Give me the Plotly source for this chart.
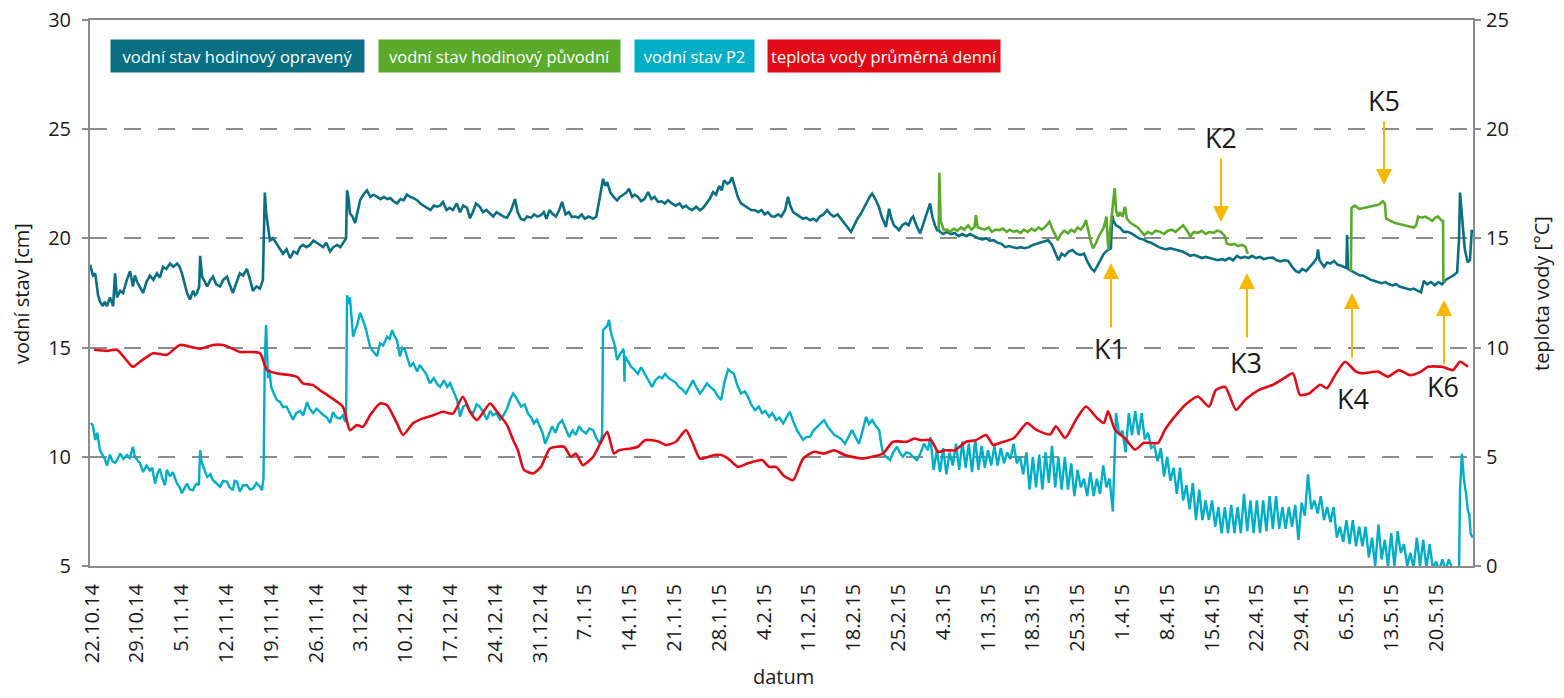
import pandas as pd
import plotly.graph_objects as go

START = "2014-10-22"

# ---- x-axis tick labels (weekly) ----
tick_labels = ["22.10.14", "29.10.14", "5.11.14", "12.11.14", "19.11.14", "26.11.14",
               "3.12.14", "10.12.14", "17.12.14", "24.12.14", "31.12.14", "7.1.15",
               "14.1.15", "21.1.15", "28.1.15", "4.2.15", "11.2.15", "18.2.15",
               "25.2.15", "4.3.15", "11.3.15", "18.3.15", "25.3.15", "1.4.15",
               "8.4.15", "15.4.15", "22.4.15", "29.4.15", "6.5.15", "13.5.15", "20.5.15"]

# ---- vodní stav hodinový opravený [cm] : (days since 22.10.14, value) ----
opr = [(-0.3, 18.8), (0.15, 18.3), (0.5, 18.4), (0.95, 17.4), (1.25, 17.1), (1.7, 16.9), (2.0, 17.1),
       (2.35, 16.9), (2.8, 17.3), (3.3, 16.9), (3.6, 18.4), (3.9, 17.3), (4.4, 17.6), (4.85, 17.5),
       (5.45, 18.1), (5.95, 18.5), (6.4, 17.8), (6.7, 18.3), (7.05, 18.0), (7.6, 17.7), (8.0, 17.5),
       (8.5, 18.0), (9.05, 18.3), (9.6, 18.1), (10.15, 18.4), (10.6, 18.2), (11.1, 18.7), (11.6, 18.6),
       (12.2, 18.85), (12.7, 18.7), (13.3, 18.85), (13.7, 18.7), (14.05, 18.4), (14.5, 17.9),
       (14.85, 17.5), (15.3, 17.2), (15.8, 17.6), (16.1, 17.4), (16.4, 17.5), (16.75, 17.8),
       (16.9, 19.2), (17.2, 18.25), (17.6, 18.0), (18.0, 17.8), (18.5, 18.1), (18.9, 18.25),
       (19.4, 17.9), (20.0, 17.8), (20.5, 18.1), (21.1, 18.25), (21.5, 17.9), (22.0, 17.5),
       (22.6, 18.0), (23.1, 18.4), (23.6, 18.3), (24.2, 18.6), (24.7, 18.1), (25.15, 17.6),
       (25.7, 17.8), (26.25, 17.7), (26.7, 18.1), (26.9, 21.0), (27.0, 22.1), (27.2, 21.2),
       (27.5, 20.5), (27.8, 19.9), (28.3, 20.0), (28.9, 19.7), (29.4, 19.5), (29.85, 19.3),
       (30.4, 19.5), (30.95, 19.1), (31.5, 19.4), (32.05, 19.3), (32.5, 19.6), (32.95, 19.7),
       (33.5, 19.6), (34.05, 19.7), (34.6, 19.9), (35.15, 19.8), (35.6, 19.7), (36.1, 19.6),
       (36.6, 19.8), (37.2, 19.4), (37.7, 19.6), (38.3, 19.7), (38.8, 19.6), (39.2, 19.8),
       (39.7, 20.0), (39.85, 22.2), (40.1, 21.8), (40.3, 21.15), (40.7, 21.0), (41.1, 20.7),
       (41.5, 21.3), (41.9, 21.75), (42.4, 22.0), (42.95, 22.2), (43.5, 21.9), (44.0, 22.0),
       (44.55, 21.9), (45.1, 21.8), (45.6, 21.9), (46.1, 21.8), (46.6, 21.85), (47.1, 21.7),
       (47.65, 21.6), (48.2, 21.8), (48.7, 21.75), (49.2, 22.0), (49.7, 21.9), (50.2, 21.85),
       (50.8, 21.75), (51.3, 21.6), (51.8, 21.5), (52.35, 21.4), (52.9, 21.3), (53.4, 21.5),
       (53.9, 21.45), (54.4, 21.5), (54.85, 21.67), (55.4, 21.3), (55.9, 21.4), (56.4, 21.3),
       (57.0, 21.6), (57.5, 21.2), (58.0, 21.5), (58.6, 21.4), (59.05, 20.93), (59.5, 21.2),
       (60.0, 21.6), (60.6, 21.45), (61.1, 21.2), (61.6, 21.3), (62.2, 21.15), (62.7, 21.0),
       (63.2, 21.2), (63.75, 21.1), (64.3, 21.0), (64.85, 20.95), (65.5, 21.3), (66.1, 21.8),
       (66.5, 21.2), (67.0, 20.9), (67.5, 20.83), (68.0, 21.0), (68.6, 20.95), (69.1, 21.1),
       (69.6, 21.0), (70.1, 21.05), (70.6, 21.2), (71.0, 20.9), (71.5, 21.3), (71.9, 21.14),
       (72.5, 21.0), (73.0, 21.3), (73.45, 21.67), (74.0, 21.1), (74.5, 21.2), (75.0, 20.98),
       (75.5, 21.0), (76.0, 20.95), (76.5, 21.1), (77.0, 20.9), (77.6, 21.0), (78.3, 20.9),
       (78.8, 21.0), (79.3, 21.8), (79.85, 22.73), (80.2, 22.4), (80.5, 22.58), (81.0, 22.1),
       (81.5, 21.9), (82.05, 21.74), (82.5, 21.9), (83.0, 22.0), (83.5, 22.1), (83.9, 22.27),
       (84.4, 21.9), (84.8, 22.0), (85.3, 21.9), (85.8, 21.7), (86.3, 21.8), (86.9, 22.12),
       (87.4, 21.8), (87.9, 21.9), (88.45, 21.67), (89.0, 21.7), (89.5, 21.6), (90.0, 21.75),
       (90.6, 21.6), (91.2, 21.5), (91.8, 21.6), (92.3, 21.4), (92.8, 21.5), (93.3, 21.36),
       (93.8, 21.3), (94.4, 21.45), (95.0, 21.29), (95.5, 21.4), (96.0, 21.6), (96.5, 21.8),
       (97.05, 22.12), (97.5, 22.0), (98.0, 22.4), (98.4, 22.2), (98.75, 22.65), (99.3, 22.5),
       (99.7, 22.6), (100.0, 22.8), (100.4, 22.4), (100.9, 21.9), (101.4, 21.6), (101.9, 21.5),
       (102.5, 21.4), (103.0, 21.3), (103.6, 21.29), (104.1, 21.2), (104.6, 21.3), (105.1, 21.1),
       (105.6, 21.2), (106.2, 21.0), (106.7, 21.0), (107.2, 21.1), (107.7, 21.0), (108.3, 21.3),
       (108.75, 21.9), (109.1, 21.5), (109.55, 21.2), (110.0, 21.1), (110.6, 21.0), (111.1, 20.9),
       (111.6, 20.95), (112.2, 20.83), (112.7, 20.9), (113.2, 20.8), (113.7, 21.0), (114.3, 21.1),
       (114.85, 21.3), (115.4, 21.1), (115.9, 21.0), (116.5, 21.1), (117.05, 20.9), (117.6, 20.7),
       (118.1, 20.5), (118.6, 20.3), (119.1, 20.6), (119.6, 20.9), (120.15, 21.14), (120.6, 21.4),
       (121.1, 21.7), (121.5, 21.9), (121.9, 22.05), (122.4, 21.8), (122.95, 21.44), (123.4, 21.0),
       (124.05, 20.53), (124.3, 20.9), (124.55, 21.36), (124.9, 20.9), (125.3, 20.6), (125.7, 20.5),
       (126.1, 20.38), (126.6, 20.6), (127.1, 20.7), (127.6, 20.6), (128.0, 20.9), (128.3, 21.0),
       (128.8, 20.6), (129.4, 20.23), (129.8, 20.6), (130.3, 21.0), (130.95, 21.6), (131.3, 21.0),
       (131.7, 20.6), (132.05, 20.38), (132.3, 20.4), (132.5, 20.3), (133.0, 20.2), (133.6, 20.3),
       (134.2, 20.2), (134.8, 20.25), (135.4, 20.1), (136.0, 20.2), (136.6, 20.1), (137.2, 20.2),
       (137.9, 20.08), (138.5, 20.0), (139.1, 19.95), (139.7, 20.0), (140.3, 19.9), (140.9, 19.92),
       (141.5, 19.8), (142.1, 19.75), (142.7, 19.6), (143.3, 19.65), (143.9, 19.6), (144.5, 19.55),
       (145.1, 19.6), (145.7, 19.55), (146.4, 19.6), (147.0, 19.7), (147.6, 19.75), (148.2, 19.8),
       (148.8, 19.85), (149.4, 19.92), (150.0, 19.7), (150.6, 19.3), (151.0, 19.0), (151.5, 19.3),
       (152.0, 19.2), (152.6, 19.4), (153.2, 19.47), (153.8, 19.3), (154.4, 19.24), (155.0, 19.3),
       (155.6, 18.9), (156.2, 18.6), (156.6, 18.5), (157.0, 18.7), (157.5, 19.0), (158.1, 19.3),
       (158.7, 19.47), (159.2, 19.54), (159.4, 21.07), (159.6, 20.8), (160.0, 20.6), (160.6, 20.5),
       (161.2, 20.3), (161.8, 20.3), (162.4, 20.23), (163.0, 20.1), (163.6, 20.0), (164.3, 19.95),
       (164.9, 19.85), (165.5, 19.8), (166.1, 19.7), (166.7, 19.6), (167.3, 19.54), (167.9, 19.5),
       (168.5, 19.55), (169.1, 19.5), (169.8, 19.47), (170.4, 19.4), (171.0, 19.3), (171.6, 19.2),
       (172.2, 19.25), (172.8, 19.16), (173.4, 19.1), (174.0, 19.15), (174.7, 19.1), (175.3, 19.05),
       (175.9, 19.0), (176.5, 19.05), (177.1, 19.0), (177.7, 19.1), (178.3, 19.0), (178.9, 19.2),
       (179.5, 19.1), (180.1, 19.16), (180.7, 19.1), (181.25, 19.2), (181.9, 19.1), (182.5, 19.15),
       (183.1, 19.05), (183.7, 19.1), (184.5, 19.12), (185.1, 19.0), (185.7, 18.95), (186.3, 19.0),
       (186.9, 18.97), (187.5, 18.7), (188.1, 18.5), (188.6, 18.44), (189.1, 18.6), (189.7, 18.5),
       (190.3, 18.7), (190.9, 18.9), (191.4, 19.12), (191.55, 19.5), (191.8, 19.0), (192.2, 18.8),
       (192.5, 18.7), (193.0, 18.9), (193.5, 18.85), (194.05, 18.97), (194.6, 18.8), (195.2, 18.75),
       (195.8, 18.67), (196.0, 18.7), (196.1, 20.15), (196.25, 18.6), (196.9, 18.5), (197.5, 18.4),
       (198.1, 18.3), (198.6, 18.3), (199.2, 18.2), (199.8, 18.1), (200.3, 18.06), (200.9, 18.0),
       (201.5, 17.95), (202.1, 18.0), (202.65, 17.9), (203.2, 17.85), (203.8, 17.9), (204.3, 17.8),
       (204.85, 17.76), (205.4, 17.7), (206.0, 17.65), (206.5, 17.7), (207.1, 17.6), (207.65, 17.53),
       (208.1, 18.06), (208.6, 17.9), (209.2, 18.0), (209.8, 17.85), (210.4, 18.0), (210.95, 17.9),
       (211.5, 18.1), (212.1, 18.2), (212.7, 18.3), (213.3, 18.44), (213.6, 20.0), (213.75, 22.1),
       (214.05, 21.0), (214.5, 19.5), (214.95, 18.9), (215.3, 19.0), (215.6, 20.4)]
opr_days = [d for d, v in opr]
opr_vals = [v for d, v in opr]

# ---- vodní stav hodinový původní [cm] (two recorded segments) ----
puv1 = [(132.3, 20.4), (132.4, 23.0), (132.6, 20.8), (132.9, 20.5), (133.1, 20.38), (133.6, 20.4),
        (134.1, 20.3), (134.7, 20.45), (135.2, 20.35), (135.8, 20.5), (136.3, 20.4), (136.9, 20.6),
        (137.4, 20.4), (137.9, 20.53), (138.1, 21.07), (138.4, 20.5), (139.0, 20.45), (139.5, 20.4),
        (140.1, 20.5), (140.6, 20.3), (141.2, 20.4), (141.8, 20.38), (142.3, 20.45), (142.9, 20.3),
        (143.4, 20.4), (144.0, 20.3), (144.5, 20.35), (145.1, 20.25), (145.6, 20.4), (146.2, 20.3),
        (146.8, 20.45), (147.3, 20.35), (147.9, 20.5), (148.4, 20.4), (149.0, 20.55), (149.6, 20.76),
        (150.1, 20.4), (150.6, 20.1), (150.9, 19.92), (151.4, 20.2), (151.9, 20.35), (152.5, 20.23),
        (153.0, 20.4), (153.5, 20.3), (154.0, 20.5), (154.5, 20.4), (155.0, 20.6), (155.3, 20.84),
        (155.7, 20.3), (156.1, 19.8), (156.4, 19.54), (156.9, 19.8), (157.3, 20.1), (157.6, 20.23),
        (158.1, 20.5), (158.5, 21.0), (158.7, 20.2), (158.8, 19.47), (159.0, 20.0), (159.1, 20.4),
        (159.6, 21.8), (159.8, 22.3), (160.0, 21.3), (160.3, 21.0), (160.6, 21.2), (161.0, 21.0),
        (161.4, 21.45), (161.7, 20.9), (162.3, 20.7), (162.8, 20.6), (163.4, 20.5), (164.0, 20.3),
        (164.4, 20.15), (165.0, 20.3), (165.6, 20.2), (166.2, 20.35), (166.9, 20.3), (167.5, 20.2),
        (168.1, 20.35), (168.7, 20.4), (169.3, 20.3), (169.9, 20.45), (170.5, 20.6), (171.0, 20.4),
        (171.6, 20.1), (172.2, 20.3), (172.8, 20.25), (173.4, 20.35), (174.0, 20.2), (174.6, 20.3),
        (175.2, 20.25), (175.8, 20.35), (176.4, 20.3), (177.0, 20.1), (177.3, 19.77), (177.9, 19.7),
        (178.5, 19.75), (179.1, 19.65), (179.7, 19.7), (180.2, 19.62), (180.6, 19.3)]
puv2 = [(196.7, 18.5), (196.8, 21.4), (197.35, 21.5), (198.0, 21.35), (198.9, 21.4), (199.7, 21.45),
        (200.5, 21.5), (201.1, 21.55), (201.7, 21.7), (202.0, 21.6), (202.2, 20.9), (202.9, 20.8),
        (203.6, 20.7), (204.4, 20.65), (205.15, 20.6), (205.9, 20.55), (206.55, 20.5), (206.9, 20.6),
        (207.2, 21.0), (207.8, 20.95), (208.3, 21.0), (208.9, 20.9), (209.4, 20.8), (209.9, 20.95),
        (210.3, 21.0), (210.95, 20.8), (211.1, 20.8), (211.15, 18.0)]

# ---- vodní stav P2 [cm] ----
p2_a = [(-0.15, 11.55), (0.15, 11.4), (0.5, 10.77), (0.8, 11.1), (1.25, 10.3), (1.7, 10.08), (2.0, 9.9),
        (2.35, 9.6), (2.8, 10.1), (3.2, 9.8), (3.6, 9.72), (4.0, 9.9), (4.4, 10.15), (4.9, 9.9),
        (5.45, 10.08), (5.9, 9.95), (6.4, 10.46), (6.7, 10.0), (7.05, 9.85), (7.5, 9.7), (8.0, 9.3),
        (8.5, 9.6), (9.05, 9.37), (9.4, 9.5), (9.85, 8.77), (10.2, 9.2), (10.6, 9.45), (11.0, 9.0),
        (11.4, 8.7), (11.7, 9.4), (12.2, 9.1), (12.65, 9.3), (13.0, 9.0), (13.3, 8.77), (13.7, 8.6),
        (14.05, 8.33), (14.5, 8.6), (14.85, 8.77), (15.3, 8.5), (15.8, 8.47), (16.1, 8.7), (16.4, 8.77),
        (16.7, 8.7), (16.9, 10.3), (17.1, 9.8), (17.35, 9.55), (17.7, 9.3), (18.0, 9.08), (18.5, 9.2),
        (18.9, 8.93), (19.4, 8.8), (20.0, 8.63), (20.5, 8.9), (21.1, 8.86), (21.5, 8.6), (22.0, 8.47),
        (22.3, 8.9), (22.65, 8.86), (23.1, 8.4), (23.6, 8.7), (24.2, 8.7), (24.7, 8.5), (25.15, 8.55),
        (25.7, 8.8), (26.25, 8.63), (26.55, 8.47), (26.8, 9.0), (27.0, 14.5), (27.2, 16.03),
        (27.35, 15.0), (27.5, 13.6), (27.7, 14.0), (28.0, 13.2), (28.4, 12.9), (28.9, 12.6),
        (29.4, 12.5), (29.85, 12.27), (30.4, 12.3), (30.95, 12.0), (31.4, 11.7), (31.9, 12.0),
        (32.5, 12.1), (33.0, 11.9), (33.6, 12.5), (34.0, 12.2), (34.55, 12.0), (35.1, 12.2),
        (35.6, 12.05), (36.2, 11.9), (36.7, 11.8), (37.2, 11.55), (37.65, 12.05), (38.2, 11.8),
        (38.75, 11.75), (39.2, 11.9), (39.55, 11.6), (39.7, 11.7), (39.85, 17.4), (40.1, 17.0),
        (40.3, 17.3), (40.6, 16.2), (40.8, 15.5), (41.1, 15.8), (41.4, 16.0), (41.9, 16.6),
        (42.3, 16.3), (42.65, 16.0), (43.0, 15.6), (43.45, 15.04), (44.0, 14.8), (44.55, 14.6),
        (45.0, 15.2), (45.5, 15.1), (46.1, 15.5), (46.5, 15.4), (46.9, 15.8), (47.3, 15.5),
        (47.65, 15.35), (48.1, 14.6), (48.5, 15.0), (48.9, 14.9), (49.3, 14.5), (49.7, 14.13),
        (50.2, 14.3), (50.8, 13.9), (51.2, 14.2), (51.7, 14.0), (52.2, 13.8), (52.8, 13.37),
        (53.4, 13.6), (54.0, 13.3), (54.4, 13.2), (55.0, 13.5), (55.5, 13.2), (55.95, 13.37),
        (56.5, 13.0), (57.05, 12.6), (57.3, 12.2), (57.5, 11.84), (58.0, 12.3), (58.6, 12.4),
        (59.1, 12.1), (59.55, 12.0), (60.1, 12.4), (60.6, 12.3), (61.2, 12.0), (61.7, 11.7),
        (62.2, 12.1), (62.65, 11.9), (63.2, 12.0), (63.75, 11.7), (64.3, 11.9), (64.85, 12.2),
        (65.3, 12.6), (65.8, 12.9), (66.1, 12.8), (66.6, 12.5), (67.05, 12.3), (67.6, 12.4),
        (68.1, 12.0), (68.6, 11.8), (69.05, 11.53), (69.5, 11.7), (70.0, 11.4), (70.4, 11.1),
        (70.8, 10.6), (71.3, 11.0), (71.9, 11.4), (72.4, 11.1), (72.9, 11.5), (73.45, 11.68),
        (74.0, 11.3), (74.55, 10.9), (75.1, 11.2), (75.6, 11.0), (76.1, 11.4), (76.6, 11.2),
        (77.2, 11.07), (77.7, 11.3), (78.3, 11.22), (78.9, 10.8), (79.4, 10.6), (79.7, 11.0),
        (79.85, 15.8), (80.2, 15.9), (80.5, 16.0), (80.8, 16.27), (81.0, 15.8), (81.25, 15.5),
        (81.6, 15.2), (82.05, 14.43), (82.5, 14.7), (83.0, 14.9), (83.1, 14.85), (83.2, 13.44),
        (83.3, 14.6), (83.7, 14.4), (84.2, 14.13), (84.7, 14.0), (85.3, 13.8), (85.8, 14.1),
        (86.4, 13.8), (87.0, 13.5), (87.5, 13.2), (88.0, 13.5), (88.6, 13.67), (89.1, 13.6),
        (89.55, 13.8), (90.1, 13.6), (90.6, 13.5), (91.2, 13.4), (91.7, 13.2), (92.2, 13.1),
        (92.8, 12.9), (93.3, 13.2), (93.9, 13.5), (94.4, 13.2), (95.0, 12.9), (95.5, 13.1),
        (96.1, 13.36), (96.6, 13.2), (97.2, 13.06), (97.7, 12.8), (98.3, 12.6), (98.8, 13.4),
        (99.4, 14.0), (99.8, 13.9), (100.3, 13.8), (100.8, 13.3), (101.4, 12.9), (102.0, 13.0),
        (102.5, 12.75), (103.0, 12.4), (103.6, 12.14), (104.2, 12.3), (104.7, 12.0), (105.2, 12.1),
        (105.8, 11.83), (106.3, 12.0), (106.9, 11.68), (107.4, 11.8), (108.0, 11.53), (108.5, 11.8),
        (109.05, 12.06), (109.6, 11.6), (110.15, 11.22), (110.6, 11.0), (111.1, 10.77), (111.6, 10.9),
        (112.2, 10.92), (112.7, 11.2), (113.3, 11.38), (113.8, 11.5), (114.4, 11.68), (114.9, 11.4),
        (115.45, 11.22), (116.0, 11.0), (116.55, 10.92), (117.1, 10.8), (117.65, 10.6), (118.2, 10.9),
        (118.75, 11.22), (119.3, 10.9), (119.85, 10.6), (120.4, 11.2), (120.95, 11.83), (121.4, 11.5),
        (121.9, 11.68), (122.5, 11.4), (123.0, 11.22), (123.3, 10.6), (123.6, 10.15), (124.1, 10.0),
        (124.7, 9.85), (125.2, 10.2), (125.8, 10.46), (126.2, 10.2), (126.7, 10.0), (127.2, 10.2),
        (127.8, 10.15), (128.3, 10.0), (128.9, 9.85), (129.5, 10.2), (130.0, 10.6), (130.6, 10.3)]
# half-daily readings (daily high / low of the oscillation) from day 131 on
p2_osc_start = 131.0
p2_osc_vals = [10.9, 9.4, 10.3, 9.3, 10.4, 9.2, 10.2, 9.6, 10.6, 9.4, 10.7, 9.5, 10.6, 9.3,
               10.8, 9.4, 10.5, 9.5, 10.3, 9.6, 10.5, 9.6, 10.4, 9.7, 10.2, 9.9, 10.6, 9.7,
               10.0, 9.2, 10.2, 8.5, 10.0, 8.6, 10.1, 8.5, 10.2, 8.8, 10.5, 8.6, 10.0, 8.5,
               10.0, 8.5, 9.7, 8.2, 9.4, 8.6, 9.0, 8.2, 9.3, 8.2, 9.0, 8.3, 9.6, 8.6,
               9.0, 7.5, 12.0, 11.0, 11.2, 10.2, 12.0, 11.0, 12.1, 11.0, 12.0, 10.8,
               11.1, 10.4, 10.5, 9.8, 10.4, 9.1, 10.0, 8.9, 9.5, 8.3, 9.5, 8.0,
               8.7, 7.6, 8.8, 7.1, 8.5, 7.1, 8.0, 7.1, 8.0, 6.8, 7.7, 6.5, 7.7, 6.5,
               7.8, 6.5, 7.7, 6.5, 8.3, 6.6, 8.0, 6.5, 8.0, 6.5, 8.0, 6.6, 8.2, 6.7,
               8.2, 6.7, 7.7, 6.7, 7.7, 6.8, 7.8, 6.2, 7.9, 7.3, 9.2, 7.6, 8.0, 7.4,
               8.2, 7.1, 7.7, 7.0, 7.7, 6.3, 6.8, 6.1, 7.1, 6.0, 7.1, 5.9, 6.8, 5.9,
               6.8, 5.4, 6.3, 5.0, 6.9, 5.3, 6.2, 5.0, 6.5, 5.0, 6.6, 5.6, 6.0, 5.0,
               5.6, 4.9, 6.3, 5.0, 6.2, 4.9, 6.0, 4.9, 5.2, 4.8, 5.3, 4.8, 5.3, 4.9]
p2_c = [(213.0, 4.9), (213.6, 4.8), (213.75, 8.5), (214.05, 10.15), (214.35, 9.0), (214.7, 8.3),
        (215.0, 7.5), (215.2, 7.4), (215.4, 6.5), (215.7, 6.3)]

# ---- teplota vody průměrná denní [°C] ----
tep = [(0.3, 9.9), (2.35, 9.85), (3.9, 9.9), (5.45, 9.4), (6.4, 9.12), (7.5, 9.35), (9.55, 9.74),
       (11.7, 9.67), (13.75, 10.12), (16.9, 9.95), (18.9, 10.12), (20.45, 10.12), (22.0, 9.95),
       (23.1, 9.8), (24.7, 9.8), (26.25, 9.74), (27.35, 8.97), (28.9, 8.82), (30.95, 8.74),
       (32.05, 8.66), (32.95, 8.36), (34.55, 8.28), (35.6, 8.05), (37.2, 7.74), (39.2, 7.29),
       (40.3, 6.22), (41.4, 6.45), (42.35, 6.37), (43.45, 6.9), (45.0, 7.44), (46.1, 7.36),
       (47.65, 6.53), (48.6, 6.0), (50.15, 6.53), (51.7, 6.76), (53.3, 6.9), (54.85, 7.06),
       (56.4, 6.98), (57.95, 7.75), (59.05, 7.06), (60.15, 6.68), (62.2, 7.44), (63.3, 7.06),
       (64.85, 6.45), (65.8, 5.77), (66.55, 5.3), (67.5, 4.4), (68.9, 4.24), (70.15, 4.54),
       (71.55, 5.38), (73.75, 5.46), (74.85, 5.0), (75.6, 5.15), (76.7, 4.62), (78.3, 5.0),
       (79.4, 5.6), (80.5, 6.15), (81.55, 5.15), (82.35, 5.3), (84.2, 5.38), (85.3, 5.46),
       (86.4, 5.76), (87.5, 5.76), (88.6, 5.69), (89.7, 5.54), (91.25, 5.69), (92.8, 6.22),
       (93.9, 5.6), (95.0, 4.92), (97.2, 5.08), (98.3, 5.08), (99.4, 4.92), (100.95, 4.54),
       (102.5, 4.7), (104.7, 4.85), (105.8, 4.54), (106.9, 4.54), (108.0, 4.16), (109.55, 3.93),
       (111.1, 4.92), (112.8, 5.23), (114.4, 5.15), (115.95, 5.3), (117.65, 5.08), (120.3, 4.92),
       (121.9, 5.0), (123.6, 5.15), (125.15, 5.69), (127.35, 5.69), (128.45, 5.84), (129.55, 5.76),
       (131.1, 5.76), (132.2, 5.23), (133.3, 5.3), (134.85, 5.3), (136.55, 5.69), (138.1, 5.76),
       (139.7, 6.0), (140.8, 5.54), (141.9, 5.64), (144.05, 5.86), (146.1, 6.55), (147.5, 6.24),
       (149.7, 6.02), (150.6, 6.4), (152.05, 5.86), (153.75, 6.7), (155.3, 7.3), (157.05, 6.77),
       (158.1, 6.55), (158.75, 7.08), (159.85, 6.24), (161.55, 5.8), (162.95, 5.33), (164.4, 5.64),
       (166.55, 5.64), (167.65, 6.24), (169.4, 6.92), (171.1, 7.45), (172.8, 7.76), (174.55, 7.3),
       (175.6, 8.06), (177.05, 8.2), (178.75, 7.15), (180.15, 7.6), (182.35, 8.06), (184.55, 8.3),
       (186.25, 8.6), (187.65, 8.82), (188.75, 7.83), (190.15, 7.9), (191.9, 8.3), (192.95, 8.14),
       (194.4, 8.82), (195.8, 9.35), (197.5, 8.9), (198.6, 8.82), (200.95, 8.9), (202.5, 8.67),
       (204.2, 8.97), (205.9, 8.74), (207.65, 8.9), (208.75, 9.12), (210.95, 9.12), (212.65, 8.97),
       (213.75, 9.35), (215.0, 9.12)]

# ---------------------------------------------------------------
base = pd.Timestamp(START)


def to_dates(days):
    return [base + pd.Timedelta(days=d) for d in days]


p2_days = ([d for d, v in p2_a]
           + [p2_osc_start + 0.5 * i for i in range(len(p2_osc_vals))]
           + [d for d, v in p2_c])
p2_vals = [v for d, v in p2_a] + p2_osc_vals + [v for d, v in p2_c]

puv_x = to_dates([d for d, v in puv1]) + [None] + to_dates([d for d, v in puv2])
puv_y = [v for d, v in puv1] + [None] + [v for d, v in puv2]

C_OPR = "#0A6F82"
C_PUV = "#5BAA2B"
C_P2 = "#00AEC8"
C_TEP = "#E30A17"
C_ARR = "#F9B800"
C_AX = "#8C8C8C"
C_TXT = "#1a1a1a"
FONT = "Open Sans"

fig = go.Figure()
fig.add_trace(go.Scatter(x=to_dates(opr_days), y=opr_vals, mode="lines",
                         line=dict(color=C_OPR, width=2.6), name="vodní stav hodinový opravený"))
fig.add_trace(go.Scatter(x=puv_x, y=puv_y, mode="lines", connectgaps=False,
                         line=dict(color=C_PUV, width=2.6), name="vodní stav hodinový původní"))
fig.add_trace(go.Scatter(x=to_dates(p2_days), y=p2_vals, mode="lines",
                         line=dict(color=C_P2, width=2.4), name="vodní stav P2"))
fig.add_trace(go.Scatter(x=to_dates([d for d, v in tep]), y=[v for d, v in tep], mode="lines",
                         yaxis="y2", line=dict(color=C_TEP, width=2.6, shape="spline", smoothing=0.6),
                         name="teplota vody průměrná denní"))

tick_dates = [base + pd.Timedelta(days=7 * i) for i in range(len(tick_labels))]

# page has an 8px body margin -> figure is 1548x682 placed at (8, 8)
PAGE_OFF = 8
L, T, W, H = 90.0, 20.0, 1383.0, 546.0       # plot area in page pixels
FIG_W, FIG_H = 1548, 682

fig.update_layout(
    width=FIG_W, height=FIG_H,
    margin=dict(l=L - PAGE_OFF, r=FIG_W - (L - PAGE_OFF) - W, t=T - PAGE_OFF,
                b=FIG_H - (T - PAGE_OFF) - H, autoexpand=False),
    paper_bgcolor="white", plot_bgcolor="white",
    showlegend=False,
    font=dict(family=FONT, color=C_TXT),
    xaxis=dict(range=[base - pd.Timedelta(hours=7.5), base + pd.Timedelta(days=215.78)],
               tickvals=tick_dates, ticktext=tick_labels, tickangle=-90,
               tickfont=dict(size=20, family=FONT, color=C_TXT), ticklabelstandoff=8,
               showgrid=False, zeroline=False, showline=True, mirror=True,
               linecolor=C_AX, linewidth=2, ticks="", automargin=False,
               ticklabeloverflow="allow"),
    yaxis=dict(range=[5, 30], tickvals=[5, 10, 15, 20, 25, 30],
               tickfont=dict(size=20, family=FONT, color=C_TXT), ticklabelstandoff=7,
               showgrid=True, gridcolor=C_AX, gridwidth=1.6, griddash="17px,17px",
               zeroline=False, showline=True, linecolor=C_AX, linewidth=2,
               ticks="outside", ticklen=6, tickcolor=C_AX, tickwidth=1.5, automargin=False,
               ticklabeloverflow="allow"),
    yaxis2=dict(range=[0, 25], tickvals=[0, 5, 10, 15, 20, 25], overlaying="y", side="right",
                tickfont=dict(size=20, family=FONT, color=C_TXT), ticklabelstandoff=1,
                showgrid=False, zeroline=False, showline=True, linecolor=C_AX, linewidth=2,
                ticks="outside", ticklen=6, tickcolor=C_AX, tickwidth=1.5, automargin=False,
                ticklabeloverflow="allow"),
)


def px(xp):
    return (xp - L) / W


def py(yp):
    return (T + H - yp) / H


annos = []
# legend boxes
for label, color, cx, w in [("vodní stav hodinový opravený", C_OPR, 237.5, 255),
                            ("vodní stav hodinový původní", C_PUV, 499.5, 243),
                            ("vodní stav P2", C_P2, 694.5, 121),
                            ("teplota vody průměrná denní", C_TEP, 884, 234)]:
    annos.append(dict(xref="paper", yref="paper", x=px(cx), y=py(56), text=label,
                      showarrow=False, bgcolor=color, width=w - 8, height=26,
                      borderpad=3, xanchor="center", yanchor="middle",
                      font=dict(family=FONT, size=16.5, color="white")))

# K labels and arrows  (label centre, arrow tip, arrow tail) in page pixels
for lab, lc, tip, tail in [("K1", (1110, 348), (1111, 263), (1111, 329)),
                           ("K2", (1221, 137), (1221, 222), (1221, 157)),
                           ("K3", (1246, 362), (1247, 273), (1247, 339)),
                           ("K4", (1353, 398), (1352, 293), (1352, 359)),
                           ("K5", (1384, 100), (1384, 185), (1384, 120)),
                           ("K6", (1443, 386), (1444, 300), (1444, 366))]:
    annos.append(dict(xref="paper", yref="paper", x=px(lc[0]), y=py(lc[1]), text=lab,
                      showarrow=False, xanchor="center", yanchor="middle",
                      font=dict(family=FONT, size=27, color=C_TXT)))
    annos.append(dict(xref="paper", yref="paper", x=px(tip[0]), y=py(tip[1]), text="",
                      showarrow=True, axref="pixel", ayref="pixel",
                      ax=tail[0] - tip[0], ay=tail[1] - tip[1],
                      arrowhead=2, arrowsize=1.6, arrowwidth=2, arrowcolor=C_ARR, standoff=0))

# axis titles
annos.append(dict(xref="paper", yref="paper", x=px(21), y=py(294), text="vodní stav [cm]",
                  textangle=-90, showarrow=False, xanchor="center", yanchor="middle",
                  font=dict(family=FONT, size=20, color=C_TXT)))
annos.append(dict(xref="paper", yref="paper", x=px(1541), y=py(294), text="teplota vody [°C]",
                  textangle=-90, showarrow=False, xanchor="center", yanchor="middle",
                  font=dict(family=FONT, size=20, color=C_TXT)))
annos.append(dict(xref="paper", yref="paper", x=px(783), y=py(676), text="datum",
                  showarrow=False, xanchor="center", yanchor="middle",
                  font=dict(family=FONT, size=20, color=C_TXT)))
fig.update_layout(annotations=annos)

fig.write_html("out.html")
